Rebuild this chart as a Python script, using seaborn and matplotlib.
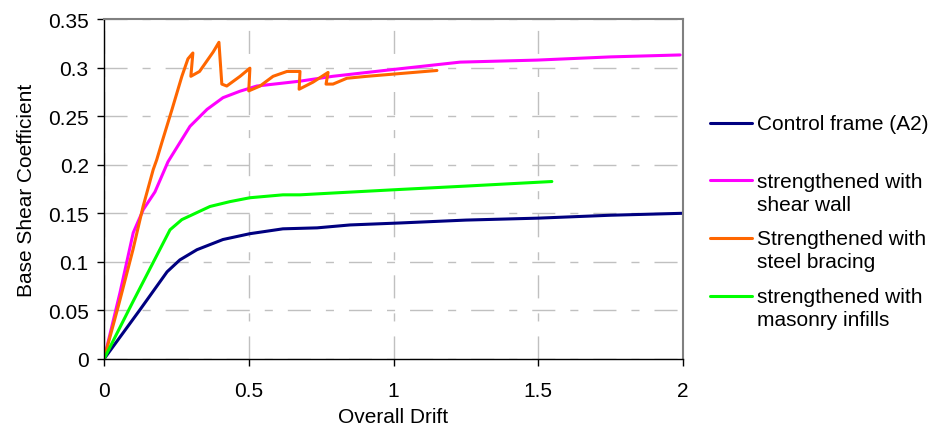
import numpy as np
import pandas as pd
import matplotlib
matplotlib.use("Agg")
import matplotlib.pyplot as plt
import seaborn as sns
from matplotlib.lines import Line2D
from matplotlib.legend_handler import HandlerLine2D
from matplotlib.ticker import FuncFormatter

# ---- data ----
control_x = [0, 0.124, 0.218, 0.262, 0.321, 0.411, 0.504, 0.618, 0.736, 0.85, 1.02, 1.25, 1.5, 1.75, 2.0]
control_y = [0, 0.0506, 0.0898, 0.102, 0.1125, 0.123, 0.129, 0.134, 0.135, 0.138, 0.140, 0.143, 0.145, 0.148, 0.150]

wall_x = [0, 0.055, 0.101, 0.136, 0.176, 0.221, 0.297, 0.356, 0.411, 0.47, 0.528, 0.677, 0.79, 0.998, 1.23, 1.496, 1.75, 1.99]
wall_y = [0, 0.068, 0.130, 0.154, 0.172, 0.203, 0.2395, 0.257, 0.269, 0.2757, 0.281, 0.286, 0.291, 0.298, 0.3056, 0.3077, 0.311, 0.313]

brace_x = [0, 0.05, 0.1, 0.135, 0.17, 0.182, 0.2, 0.235, 0.269, 0.29, 0.307, 0.30, 0.33, 0.377, 0.397, 0.407,
           0.424, 0.47, 0.504, 0.50, 0.539, 0.584, 0.632, 0.677, 0.674, 0.722, 0.774, 0.767, 0.791, 0.839, 0.908, 1.15]
brace_y = [0, 0.055, 0.1125, 0.157, 0.195, 0.205, 0.223, 0.257, 0.291, 0.309, 0.315, 0.291, 0.296, 0.316, 0.326, 0.283,
           0.281, 0.291, 0.2994, 0.276, 0.281, 0.291, 0.296, 0.296, 0.2777, 0.285, 0.295, 0.283, 0.283, 0.289, 0.291, 0.297]

infill_x = [0, 0.1, 0.228, 0.269, 0.366, 0.435, 0.504, 0.618, 0.677, 0.8, 1.02, 1.25, 1.547]
infill_y = [0, 0.059, 0.133, 0.1435, 0.157, 0.162, 0.166, 0.169, 0.169, 0.171, 0.1745, 0.178, 0.1827]

series_names = ["Control frame (A2)", "strengthened with shear wall",
                "Strengthened with steel bracing", "strengthened with masonry infills"]
legend_labels = ["Control frame (A2)\n ", "strengthened with\nshear wall",
                 "Strengthened with\nsteel bracing", "strengthened with\nmasonry infills"]
series_colors = ["#000080", "#FF00FF", "#FF6600", "#00FF00"]

x_ticks = [0, 0.5, 1, 1.5, 2]
y_ticks = [0, 0.05, 0.1, 0.15, 0.2, 0.25, 0.3, 0.35]

frames = []
for name, xs, ys in zip(series_names, [control_x, wall_x, brace_x, infill_x],
                        [control_y, wall_y, brace_y, infill_y]):
    frames.append(pd.DataFrame({"x": xs, "y": ys, "series": name}))
df = pd.concat(frames, ignore_index=True)

# ---- style ----
sns.set_style("white")
plt.rcParams["font.family"] = ["Liberation Sans", "DejaVu Sans"]
plt.rcParams["text.color"] = "black"
plt.rcParams["axes.labelcolor"] = "black"
plt.rcParams["xtick.color"] = "black"
plt.rcParams["ytick.color"] = "black"
FS = 15

fig = plt.figure(figsize=(9.36, 4.27), dpi=100)
ax = fig.add_axes([104 / 936, (427 - 360) / 427, (683 - 104) / 936, (360 - 20) / 427])

sns.lineplot(data=df, x="x", y="y", hue="series", hue_order=series_names,
             palette=dict(zip(series_names, series_colors)), sort=False, estimator=None,
             units="series", linewidth=2.2, ax=ax, legend=True)

ax.set_xlim(0, 2)
ax.set_ylim(0, 0.35)
ax.set_xticks(x_ticks)
ax.set_yticks(y_ticks)
fmt = FuncFormatter(lambda v, p: "{:g}".format(round(v, 4)))
ax.xaxis.set_major_formatter(fmt)
ax.yaxis.set_major_formatter(fmt)

ax.grid(True, color="#c0c0c0", linewidth=1.0, linestyle=(0, (16.6, 10.8, 5.8, 10.8)))
ax.set_axisbelow(True)

for s in ["left", "bottom"]:
    ax.spines[s].set_color("black")
    ax.spines[s].set_linewidth(1.0)
for s in ["top", "right"]:
    ax.spines[s].set_color("#808080")
    ax.spines[s].set_linewidth(1.5)

ax.tick_params(axis="x", direction="out", length=5, width=1, color="black", labelcolor="black",
               labelsize=FS, pad=11, bottom=True)
ax.tick_params(axis="y", direction="out", length=5, width=1, color="black", labelcolor="black",
               labelsize=FS, pad=6, left=True)

ax.set_xlabel("Overall Drift", fontsize=FS, color="black")
ax.set_ylabel("Base Shear Coefficient", fontsize=FS, color="black")
ax.xaxis.set_label_coords(0.5, -0.142)
ax.yaxis.set_label_coords(-0.117, 0.5)


class FirstLineHandler(HandlerLine2D):
    def create_artists(self, legend, orig_handle, xdescent, ydescent, width, height, fontsize, trans):
        return super().create_artists(legend, orig_handle, xdescent, ydescent - 1.2 * fontsize,
                                      width, height, fontsize, trans)


old = ax.get_legend()
handles = list(old.legend_handles)
old.remove()
for h, c in zip(handles, series_colors):
    h.set_linewidth(2.2)
    h.set_color(c)

leg = ax.legend(handles, legend_labels, loc="upper left", bbox_to_anchor=(710 / 936, 1 - 115 / 427),
                bbox_transform=fig.transFigure, frameon=False, borderpad=0, borderaxespad=0,
                handlelength=2.0, handletextpad=0.25, labelspacing=0.73, fontsize=FS,
                handler_map={Line2D: FirstLineHandler()})
for t in leg.get_texts():
    t.set_linespacing(1.29)
    t.set_color("black")

fig.savefig("out.png", dpi=100)
